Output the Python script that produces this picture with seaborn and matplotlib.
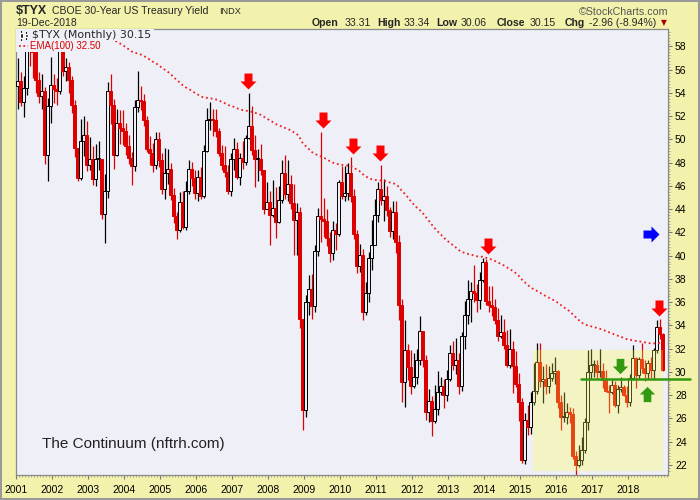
import matplotlib
matplotlib.use("Agg")
import matplotlib.pyplot as plt
from matplotlib.lines import Line2D
from matplotlib.patches import Rectangle
from matplotlib.path import Path
import numpy as np
import pandas as pd
import seaborn as sns


FIRST_YEAR = 2001
FIRST_OPEN = 54.6
EMA_SPAN = 100
EMA_SEED = 65.0  # EMA level carried in from the years before 2001

# monthly candles, yield x10, one list per year
close_by_year = {
    2001: [55.0, 53.2, 54.4, 57.8, 57.6, 57.5, 55.1, 53.7, 54.2, 48.7, 52.9, 54.7],
    2002: [54.3, 54.2, 57.8, 55.9, 56.2, 55.1, 53.0, 49.3, 46.7, 49.9, 50.4, 47.8],
    2003: [48.3, 46.6, 48.3, 48.3, 43.6, 45.6, 54.2, 53.0, 48.7, 51.4, 51.0, 50.7],
    2004: [49.4, 48.4, 47.7, 52.8, 53.4, 53.3, 51.7, 49.2, 48.8, 47.8, 50.0, 48.2],
    2005: [45.7, 47.1, 47.5, 45.2, 43.4, 42.2, 44.6, 42.5, 45.6, 47.5, 46.7, 45.4],
    2006: [46.8, 45.1, 49.0, 51.7, 51.8, 51.7, 50.7, 48.8, 47.8, 47.2, 45.6, 48.3],
    2007: [49.2, 46.8, 48.4, 48.1, 50.1, 51.2, 49.1, 48.3, 48.3, 47.4, 44.0, 44.6],
    2008: [43.5, 44.1, 42.9, 44.8, 47.1, 45.3, 46.2, 44.5, 43.1, 43.8, 34.6, 26.7],
    2009: [36.0, 37.1, 35.7, 40.4, 43.4, 43.2, 43.0, 41.5, 40.2, 42.2, 41.9, 46.3],
    2010: [45.1, 45.4, 47.1, 45.1, 41.9, 39.1, 40.1, 35.2, 36.8, 39.8, 40.9, 43.5],
    2011: [45.7, 44.8, 45.1, 43.9, 42.1, 43.8, 41.2, 35.8, 29.1, 31.9, 30.4, 28.8],
    2012: [29.6, 31.0, 33.5, 31.0, 26.6, 27.5, 25.8, 26.8, 28.3, 28.8, 28.0, 29.4],
    2013: [31.6, 30.6, 31.0, 28.8, 33.1, 34.9, 36.3, 37.0, 36.8, 36.2, 37.9, 39.5],
    2014: [36.1, 35.8, 35.6, 34.5, 33.1, 33.4, 32.3, 30.6, 32.0, 30.5, 29.0, 27.4],
    2015: [22.4, 25.9, 25.3, 27.4, 28.4, 30.9, 29.2, 29.4, 28.8, 29.5, 29.9, 30.1],
    2016: [27.4, 26.1, 26.1, 26.6, 26.4, 22.8, 22.0, 22.4, 23.3, 25.7, 30.0, 30.6],
    2017: [30.6, 30.0, 30.1, 29.3, 28.4, 28.3, 28.9, 27.2, 28.5, 28.7, 28.0, 27.4],
    2018: [29.5, 31.2, 29.7, 31.1, 30.3, 29.9, 30.8, 30.2, 31.9, 33.9, 33.31, 30.15],
}
high_by_year = {
    2001: [57.0, 55.8, 55.5, 58.6, 59.2, 59.0, 57.9, 55.8, 55.6, 54.5, 53.6, 57.1],
    2002: [55.6, 55.3, 59.0, 58.4, 57.0, 56.7, 55.5, 53.4, 49.0, 51.8, 52.0, 51.6],
    2003: [50.2, 49.4, 49.6, 49.9, 48.0, 47.0, 54.9, 55.6, 53.5, 52.6, 52.5, 52.5],
    2004: [51.4, 50.4, 48.9, 53.4, 55.9, 54.6, 53.9, 52.0, 50.3, 49.7, 50.6, 50.6],
    2005: [48.8, 49.3, 49.2, 48.0, 45.8, 43.8, 45.5, 45.6, 46.4, 48.2, 48.1, 47.4],
    2006: [47.4, 47.6, 49.5, 52.7, 53.2, 52.6, 52.6, 51.0, 49.5, 49.4, 47.8, 48.8],
    2007: [50.1, 49.8, 48.8, 49.9, 50.4, 54.0, 52.9, 50.4, 49.2, 49.6, 47.4, 46.3],
    2008: [45.6, 46.5, 45.9, 46.0, 48.2, 48.7, 48.2, 46.9, 46.2, 44.5, 44.2, 34.6],
    2009: [36.6, 38.3, 38.4, 40.9, 44.1, 50.6, 45.0, 44.0, 42.0, 43.0, 42.8, 46.5],
    2010: [47.7, 47.7, 48.0, 48.5, 45.7, 42.2, 41.0, 40.6, 37.7, 40.3, 43.1, 44.9],
    2011: [46.3, 47.8, 46.6, 46.0, 44.2, 44.7, 44.7, 41.8, 36.3, 34.5, 32.4, 31.9],
    2012: [31.6, 32.0, 34.8, 33.5, 31.5, 28.5, 27.9, 28.9, 30.1, 29.6, 29.4, 30.2],
    2013: [32.3, 32.7, 32.9, 31.6, 33.4, 36.1, 37.9, 37.7, 39.2, 37.6, 38.6, 39.8],
    2014: [39.7, 37.4, 37.4, 36.3, 35.5, 34.9, 34.6, 33.6, 33.7, 32.7, 31.8, 29.9],
    2015: [27.8, 26.5, 27.2, 28.3, 30.8, 32.5, 32.5, 30.5, 30.7, 30.5, 30.8, 31.3],
    2016: [30.2, 28.0, 28.3, 27.3, 27.0, 26.9, 23.2, 23.7, 24.4, 26.0, 31.9, 32.0],
    2017: [31.0, 31.0, 32.0, 30.8, 30.2, 28.9, 29.4, 29.2, 28.9, 29.6, 28.9, 28.8],
    2018: [29.8, 32.3, 31.3, 31.3, 32.5, 31.0, 31.0, 31.3, 32.1, 34.5, 34.6, 33.34],
}
low_by_year = {
    2001: [52.6, 52.9, 51.9, 53.8, 56.3, 55.3, 54.0, 53.1, 52.6, 47.9, 46.4, 51.4],
    2002: [53.1, 53.0, 53.9, 55.5, 55.0, 54.0, 52.3, 48.5, 46.4, 46.5, 48.6, 47.3],
    2003: [47.4, 46.1, 46.0, 47.4, 43.2, 41.1, 45.0, 51.3, 47.5, 48.6, 49.6, 49.5],
    2004: [48.7, 47.9, 46.1, 47.3, 52.4, 52.5, 51.2, 48.9, 47.8, 47.2, 47.5, 47.6],
    2005: [45.3, 44.9, 46.2, 44.8, 42.8, 41.4, 42.0, 42.3, 42.2, 45.3, 46.0, 44.9],
    2006: [44.7, 44.9, 45.0, 48.9, 50.8, 50.3, 50.2, 48.6, 47.4, 46.8, 45.3, 45.1],
    2007: [47.4, 46.6, 46.1, 47.5, 47.8, 50.0, 48.7, 45.9, 46.4, 46.9, 43.6, 44.0],
    2008: [40.9, 43.3, 41.5, 42.8, 44.5, 44.9, 44.7, 44.0, 40.1, 40.1, 33.8, 25.0],
    2009: [26.1, 34.9, 34.6, 35.2, 40.0, 41.2, 41.6, 40.8, 39.5, 39.6, 40.5, 41.7],
    2010: [44.9, 44.7, 44.8, 44.6, 41.4, 38.5, 38.6, 34.5, 34.9, 36.0, 38.8, 41.0],
    2011: [42.9, 44.4, 43.0, 43.4, 41.6, 41.4, 40.2, 34.5, 27.4, 27.0, 29.3, 28.1],
    2012: [28.6, 29.0, 30.6, 30.4, 25.9, 25.7, 24.5, 25.6, 26.3, 28.0, 26.9, 27.5],
    2013: [29.2, 30.2, 29.8, 28.1, 28.4, 32.0, 34.1, 34.3, 36.0, 35.2, 35.4, 37.7],
    2014: [35.8, 35.2, 34.8, 34.1, 32.7, 32.9, 32.0, 30.4, 30.3, 28.2, 28.7, 25.8],
    2015: [22.2, 22.1, 24.6, 24.7, 27.2, 28.1, 28.7, 27.3, 28.1, 28.2, 29.2, 29.0],
    2016: [26.9, 25.0, 25.7, 25.5, 25.6, 22.5, 21.1, 21.8, 22.0, 23.0, 25.0, 29.4],
    2017: [29.6, 29.5, 29.6, 28.6, 28.3, 26.5, 28.1, 27.0, 26.5, 28.3, 27.9, 27.0],
    2018: [27.1, 29.3, 28.6, 29.4, 29.9, 29.2, 29.4, 29.5, 29.4, 31.6, 32.8, 30.06],
}

year_labels = [str(y) for y in range(2001, 2019)]
y_ticks = list(range(22, 59, 2))

# annotations (month index, level)
red_arrows = [(76.8, 55.0), (101.8, 51.7), (111.8, 49.4), (120.8, 48.85), (156.8, 40.85), (213.8, 35.5)]
blue_arrow = (211.2, 41.9)
green_down = (200.8, 30.5)
green_up = (209.8, 28.1)
support_level = 29.38
support_start = 187.8
box_months = (171.7, 215.2)
box_levels = (21.45, 31.9)

PLOT_BG = "#EFEFF7"
OUTER_BG = "#F2F2AC"
RED = "#DD0000"
GREEN = "#339911"

years = sorted(close_by_year)
close = [c for y in years for c in close_by_year[y]]
high = [h for y in years for h in high_by_year[y]]
low = [l for y in years for l in low_by_year[y]]
df = pd.DataFrame({"close": close, "high": high, "low": low})
df["month"] = np.arange(len(df))
df["open"] = df["close"].shift(1).fillna(FIRST_OPEN)
prev_close = df["close"].shift(1).fillna(FIRST_OPEN)
df["up"] = df["close"] >= prev_close

alpha = 2.0 / (EMA_SPAN + 1)
ema = []
level = EMA_SEED
for c in df["close"]:
    level = level + alpha * (c - level)
    ema.append(level)
df["ema"] = ema

sns.set_theme(style="white")
plt.rcParams["font.family"] = ["Liberation Sans", "DejaVu Sans"]

fig = plt.figure(figsize=(7, 5), dpi=100)
fig.patch.set_facecolor(OUTER_BG)
fig.patch.set_edgecolor("#999999")
fig.patch.set_linewidth(1.5)
ax = fig.add_axes([16 / 700, 25 / 500, 652 / 700, 446 / 500])
ax.set_facecolor(PLOT_BG)

# wicks
top = np.maximum(df["high"], np.maximum(df["open"], df["close"]))
bot = np.minimum(df["low"], np.minimum(df["open"], df["close"]))
colors = np.where(df["up"], "black", RED)
ax.vlines(df["month"], bot, top, colors=colors, linewidth=0.9, zorder=2)

# bodies
body_lo = np.minimum(df["open"], df["close"])
body_h = np.maximum(np.abs(df["close"] - df["open"]), 0.08)
hollow = df["close"] >= df["open"]
face = [PLOT_BG if h else c for h, c in zip(hollow, colors)]
ax.bar(df["month"], body_h, bottom=body_lo, width=0.74, color=face,
       edgecolor=colors, linewidth=0.7, zorder=3)

sns.lineplot(x=df["month"], y=df["ema"], ax=ax, color="#EE2020",
             linestyle=(0, (1, 1.6)), linewidth=1.3, zorder=3.5)

ax.add_patch(Rectangle((box_months[0], box_levels[0]), box_months[1] - box_months[0],
                       box_levels[1] - box_levels[0], facecolor=(1.0, 1.0, 0.25),
                       edgecolor="none", alpha=0.28, zorder=4))

ax.plot([support_start, 224.2], [support_level, support_level], color=GREEN,
        linewidth=1.8, zorder=5, clip_on=False)

arrow_down = Path([(-0.25, 0.5), (0.25, 0.5), (0.25, 0.0), (0.5, 0.0), (0.0, -0.5),
                   (-0.5, 0.0), (-0.25, 0.0), (-0.25, 0.5)])
arrow_up = Path([(x, -y) for x, y in arrow_down.vertices])
arrow_right = Path([(-y, x) for x, y in arrow_down.vertices])
for mx, lv in red_arrows:
    ax.plot(mx, lv, marker=arrow_down, markersize=11.5, color="#FF0000",
            markeredgewidth=0, linestyle="none", zorder=6)
ax.plot(*blue_arrow, marker=arrow_right, markersize=11.5, color="#0000FF",
        markeredgewidth=0, linestyle="none", zorder=6)
ax.plot(*green_down, marker=arrow_down, markersize=11, color=GREEN,
        markeredgewidth=0, linestyle="none", zorder=6)
ax.plot(*green_up, marker=arrow_up, markersize=11, color=GREEN,
        markeredgewidth=0, linestyle="none", zorder=6)

ax.set_xlim(-0.5, 216.83)
ax.set_ylim(21.14, 59.5)
ax.set_xticks([12 * k - 0.5 for k in range(len(year_labels))])
ax.set_xticklabels(year_labels)
ax.set_xticks(np.arange(-0.5, 217, 1), minor=True)
ax.set_yticks(y_ticks)
ax.set_yticklabels([str(v) for v in y_ticks])
ax.set_yticks(np.arange(21.5, 59.5, 0.25), minor=True)
ax.yaxis.tick_right()
ax.tick_params(axis="both", which="major", length=3, width=0.8, color="#777777",
               labelsize=7.5, labelcolor="black")
ax.tick_params(axis="x", which="major", pad=4)
ax.tick_params(axis="y", which="major", pad=2)
ax.tick_params(axis="both", which="minor", length=1.5, width=0.6, color="#999999")
ax.tick_params(axis="x", which="both", bottom=True)
ax.tick_params(axis="y", which="both", right=True, left=False)
ax.set_xlabel("")
ax.set_ylabel("")
for side in ax.spines.values():
    side.set_color("#8A8A8A")
    side.set_linewidth(0.9)


def ax_px(px, py):
    return (px - 16) / 652, (475 - py) / 446


# legend strips cover the candles beneath
x0, y0 = ax_px(16, 41)
x1, y1 = ax_px(154, 29)
ax.add_patch(Rectangle((x0, y0), x1 - x0, y1 - y0, transform=ax.transAxes,
                       facecolor=PLOT_BG, edgecolor="none", zorder=6))
x0, y0 = ax_px(16, 52.5)
x1, y1 = ax_px(101, 41)
ax.add_patch(Rectangle((x0, y0), x1 - x0, y1 - y0, transform=ax.transAxes,
                       facecolor=PLOT_BG, edgecolor="none", zorder=6))
for bx, by0, by1, bb0, bb1 in [(21, 31, 40, 33, 38), (26, 32, 39, 34, 37)]:
    ax.add_line(Line2D([ax_px(bx, 0)[0]] * 2, [ax_px(0, by1)[1], ax_px(0, by0)[1]],
                       transform=ax.transAxes, color="black", linewidth=0.8, zorder=7))
    ax.add_patch(Rectangle(ax_px(bx - 1.5, bb1), 3 / 652, (bb1 - bb0) / 446,
                           transform=ax.transAxes, facecolor="black", zorder=7))
tx, ty = ax_px(32, 35.5)
ax.text(tx, ty, "$TYX (Monthly) 30.15", transform=ax.transAxes, fontsize=7.9,
        family=["DejaVu Sans"], va="center", ha="left", zorder=7)
ax.add_line(Line2D([ax_px(19, 0)[0], ax_px(28, 0)[0]], [ax_px(0, 46)[1]] * 2,
                   transform=ax.transAxes, color="#EE2020", linewidth=1.3,
                   linestyle=(0, (1, 1.4)), zorder=7))
tx, ty = ax_px(29.5, 46.5)
ax.text(tx, ty, "EMA(100) 32.50", transform=ax.transAxes, fontsize=7.0,
        color="#DD0000", va="center", ha="left", zorder=7)
tx, ty = ax_px(42, 444)
ax.text(tx, ty, "The Continuum (nftrh.com)", transform=ax.transAxes, fontsize=11,
        color="#222222", va="center", ha="left", zorder=7)


def fig_text(px, py, s, **kw):
    fig.text(px / 700, 1 - py / 500, s, va="center", **kw)


fig_text(16, 11, "$TYX", fontsize=9, fontweight="bold")
fig_text(52, 11.5, "CBOE 30-Year US Treasury Yield", fontsize=7.6)
fig_text(219, 12, "INDX", fontsize=6.6)
fig_text(668, 12, "\u00a9StockCharts.com", fontsize=7.7, color="#555555", ha="right")
fig_text(16, 22.5, "19-Dec-2018", fontsize=7.5)
header_parts = [
    (312, "Open", True), (345, "33.31", False), (377, "High", True), (404, "33.34", False),
    (436, "Low", True), (461, "30.06", False), (497, "Close", True), (530, "30.15", False),
    (565, "Chg", True), (589, "-2.96 (-8.94%)", False),
]
for px, s, bold in header_parts:
    fig_text(px, 22.5, s, fontsize=7.6, fontweight="bold" if bold else "normal")
fig_text(661, 23, "\u25bc", fontsize=5.5, color="#AA0000", family=["DejaVu Sans"])

fig.savefig("out.png", dpi=100, facecolor=fig.get_facecolor())
